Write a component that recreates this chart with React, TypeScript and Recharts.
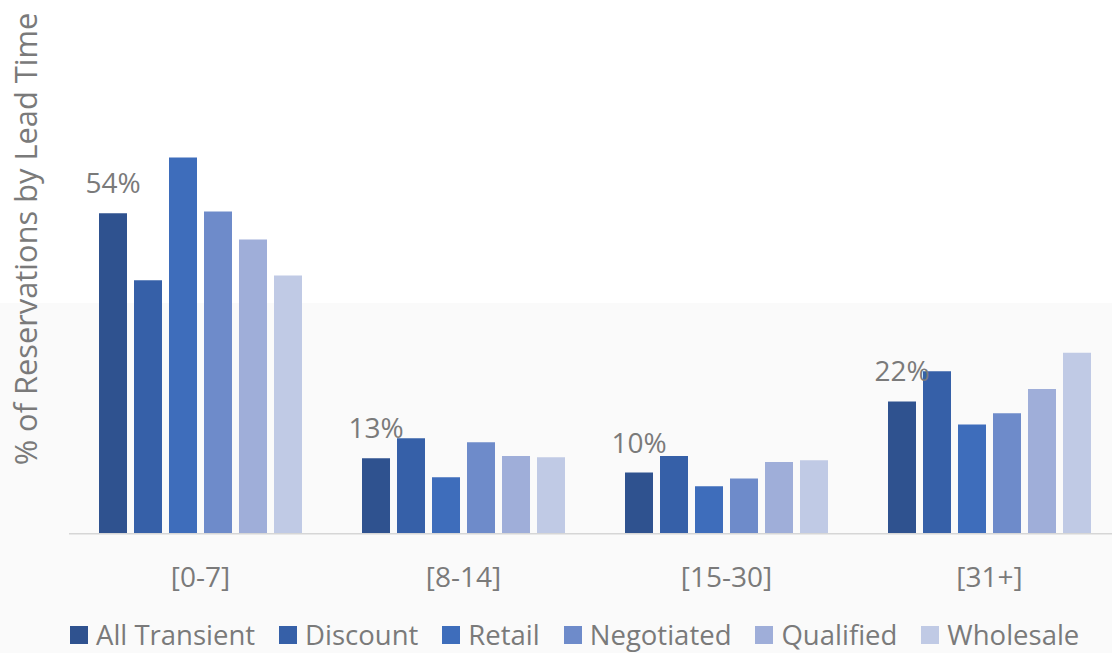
import React from 'react';
import { BarChart, Bar, XAxis, YAxis, Legend, LabelList } from 'recharts';

const categories = ['[0-7]', '[8-14]', '[15-30]', '[31+]'];
const allTransient = [54, 12.7, 10.3, 22.3];
const discount = [42.7, 16.1, 13.1, 27.4];
const retail = [63.4, 9.5, 8.0, 18.4];
const negotiated = [54.3, 15.4, 9.3, 20.3];
const qualified = [49.6, 13.1, 12.1, 24.4];
const wholesale = [43.5, 12.9, 12.4, 30.5];

const seriesNames = ['All Transient', 'Discount', 'Retail', 'Negotiated', 'Qualified', 'Wholesale'];
const seriesKeys = ['allTransient', 'discount', 'retail', 'negotiated', 'qualified', 'wholesale'];
const seriesColors = ['#2F528F', '#3660A8', '#3E6DBB', '#6E8BCA', '#9FAED9', '#C0CAE5'];
const yAxisTitle = '% of Reservations by Lead Time';

const seriesValues = [allTransient, discount, retail, negotiated, qualified, wholesale];
const data = categories.map((c, i) => {
  const row: any = { category: c };
  seriesKeys.forEach((k, s) => {
    row[k] = seriesValues[s][i];
  });
  return row;
});

const FONT = '"Open Sans", sans-serif';
const GREY = '#7A7A7A';

const renderLegend = () => (
  <div style={{ display: 'flex', alignItems: 'center', fontFamily: FONT, fontSize: 27.5, lineHeight: '30px', color: GREY, whiteSpace: 'nowrap' }}>
    {seriesNames.map((n, i) => (
      <div key={n} style={{ display: 'flex', alignItems: 'center', marginRight: 24 }}>
        <div style={{ width: 18, height: 18, background: seriesColors[i], marginRight: 8 }} />
        <span>{n}</span>
      </div>
    ))}
  </div>
);

const YTitle = () => (
  <text
    x={37}
    y={239}
    transform="rotate(-90 37 239)"
    textAnchor="middle"
    fill={GREY}
    fontFamily={FONT}
    fontSize={30.8}
  >
    {yAxisTitle}
  </text>
);

export default function App() {
  return (
    <div style={{ position: 'absolute', left: 0, top: 0, width: 1112, height: 653, overflow: 'hidden', background: '#FFFFFF' }}>
      <div style={{ position: 'absolute', left: 0, top: 303, width: 1112, height: 350, background: '#FAFAFA' }} />
      <div style={{ position: 'absolute', left: 0, top: 0 }}>
        <BarChart
          width={1130}
          height={653}
          data={data}
          margin={{ top: 118.4, right: 9, bottom: 59.3, left: 0 }}
          barGap={7}
        >
          <XAxis
            dataKey="category"
            tickLine={false}
            axisLine={{ stroke: '#D6D6D6', strokeWidth: 1.5 }}
            tick={{ fill: GREY, fontSize: 28, fontFamily: FONT }}
            tickMargin={27}
            height={60}
            interval={0}
          />
          <YAxis
            width={69}
            domain={[0, 70]}
            tick={false}
            axisLine={false}
            tickLine={false}
            label={{ content: () => <YTitle /> }}
          />
          <Legend
            verticalAlign="middle"
            align="center"
            layout="horizontal"
            wrapperStyle={{ top: 620, left: 70, width: 1060, height: 30 }}
            content={renderLegend}
          />
          {seriesKeys.map((k, i) => (
            <Bar key={k} dataKey={k} name={seriesNames[i]} fill={seriesColors[i]} barSize={28} isAnimationActive={false}>
              {i === 0 ? (
                <LabelList
                  dataKey={k}
                  position="top"
                  offset={20}
                  formatter={(v: any) => `${Math.round(Number(v))}%`}
                  style={{ fill: GREY, fontSize: 28, fontFamily: FONT }}
                />
              ) : null}
            </Bar>
          ))}
        </BarChart>
      </div>
    </div>
  );
}
